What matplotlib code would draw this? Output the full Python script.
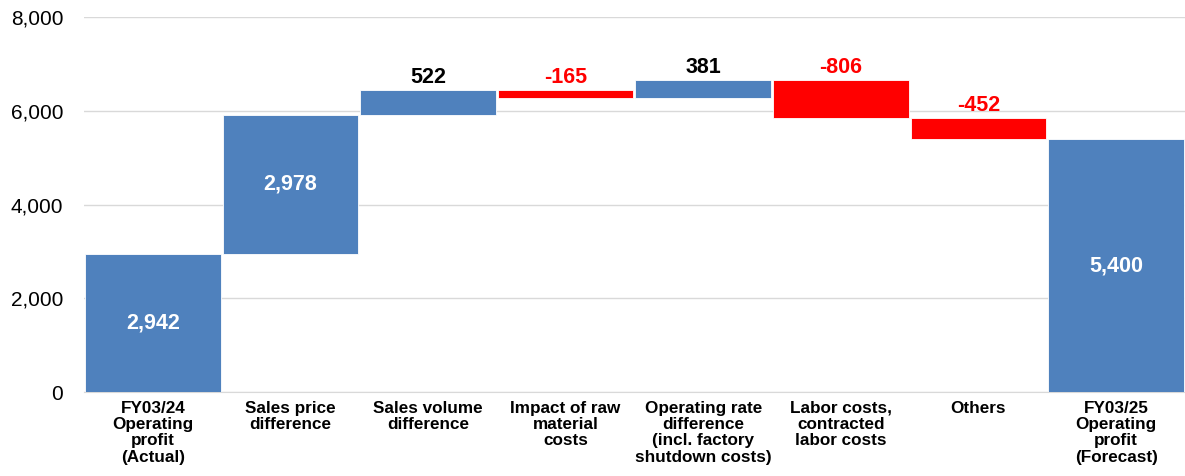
import matplotlib.pyplot as plt

plt.rcParams['font.family'] = ['Liberation Sans', 'DejaVu Sans']

labels = ["FY03/24\nOperating\nprofit\n(Actual)", "Sales price\ndifference",
          "Sales volume\ndifference", "Impact of raw\nmaterial\ncosts",
          "Operating rate\ndifference\n(incl. factory\nshutdown costs)",
          "Labor costs,\ncontracted\nlabor costs", "Others",
          "FY03/25\nOperating\nprofit\n(Forecast)"]
changes = [2942, 2978, 522, -165, 381, -806, -452, 5400]
is_total = [True, False, False, False, False, False, False, True]

blue = '#4F81BD'
red = '#FF0000'

fig = plt.figure(figsize=(11.85, 4.76), dpi=100)
ax = fig.add_axes([0.0709, 0.176, 0.929, 0.788])

running = 0
for i, (val, total) in enumerate(zip(changes, is_total)):
    if total:
        bottom, height = 0, val
        running = val
    else:
        bottom = running if val >= 0 else running + val
        height = abs(val)
        running += val
    color = blue if val >= 0 else red
    ax.bar(i, height, bottom=bottom, width=0.985, color=color,
           edgecolor='white', linewidth=0.6, zorder=3)
    txt = f"{val:,}"
    if height > 1500:
        ax.text(i, bottom + height / 2, txt, ha='center', va='center',
                color='white', fontsize=15.5, fontweight='bold', zorder=4)
    else:
        ax.text(i, bottom + height + 50, txt, ha='center', va='bottom',
                color='black' if val >= 0 else red, fontsize=15.5,
                fontweight='bold', zorder=4)

ax.set_xlim(-0.5, 7.5)
ax.set_ylim(0, 8000)
ax.set_yticks([0, 2000, 4000, 6000, 8000])
ax.set_yticklabels([f"{v:,}" for v in [0, 2000, 4000, 6000, 8000]], fontsize=15)
ax.set_xticks(range(len(labels)))
ax.set_xticklabels(labels, fontsize=12.3, fontweight='bold', linespacing=1.12)
ax.tick_params(axis='both', length=0)
ax.tick_params(axis='y', pad=15)
ax.tick_params(axis='x', pad=6)
ax.grid(axis='y', color='#D9D9D9', linewidth=1, zorder=0)
for s in ['top', 'right', 'left']:
    ax.spines[s].set_visible(False)
ax.spines['bottom'].set_color('#D9D9D9')

fig.savefig('out.png', dpi=100)
